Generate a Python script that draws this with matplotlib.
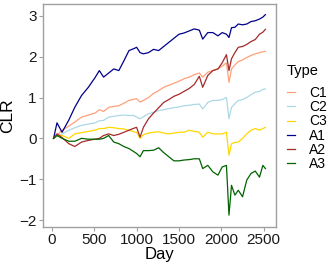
import matplotlib
matplotlib.use("Agg")
import matplotlib.pyplot as plt

plt.rcParams['font.family'] = ['Liberation Sans', 'DejaVu Sans']

days = [20, 60, 120, 200, 270, 350, 430, 510, 560, 610, 670, 730, 790, 850, 910,
        970, 1000, 1040, 1080, 1140, 1200, 1260, 1320, 1380, 1440, 1500, 1560, 1620,
        1680, 1740, 1780, 1840, 1900, 1960, 2010, 2060, 2090, 2120, 2160, 2200, 2250,
        2300, 2350, 2400, 2450, 2490, 2520]

c1 = [0, 0.08, 0.2, 0.3, 0.4, 0.52, 0.57, 0.62, 0.7, 0.66, 0.76, 0.78, 0.8, 0.86, 0.93,
      0.96, 0.97, 0.89, 0.93, 1.0, 1.1, 1.17, 1.25, 1.3, 1.35, 1.4, 1.46, 1.5,
      1.56, 1.6, 1.5, 1.62, 1.66, 1.7, 1.77, 1.85, 1.37, 1.7, 1.8, 1.88, 1.92,
      1.98, 2.03, 2.07, 2.1, 2.12, 2.13]
c2 = [0, 0.05, 0.11, 0.2, 0.26, 0.32, 0.35, 0.38, 0.43, 0.44, 0.52, 0.54, 0.56, 0.57, 0.56,
      0.56, 0.52, 0.48, 0.53, 0.6, 0.64, 0.68, 0.7, 0.73, 0.75, 0.77, 0.8, 0.81,
      0.83, 0.84, 0.72, 0.88, 0.93, 0.93, 0.95, 1.0, 0.48, 0.76, 0.85, 0.93, 0.95,
      1.0, 1.07, 1.13, 1.15, 1.2, 1.21]
c3 = [0, 0.08, 0.07, 0.0, 0.11, 0.14, 0.17, 0.2, 0.24, 0.24, 0.27, 0.26, 0.24, 0.23, 0.2,
      0.16, 0.15, 0.0, 0.09, 0.13, 0.15, 0.16, 0.13, 0.11, 0.13, 0.15, 0.15, 0.2,
      0.17, 0.15, 0.03, 0.15, 0.11, 0.11, 0.11, 0.15, -0.41, -0.13, -0.1, -0.09, 0.0,
      0.11, 0.2, 0.24, 0.2, 0.24, 0.27]
a1 = [0, 0.38, 0.15, 0.45, 0.76, 1.05, 1.25, 1.49, 1.66, 1.5, 1.6, 1.7, 1.66, 1.9, 2.15,
      2.2, 2.23, 2.1, 2.07, 2.1, 2.18, 2.15, 2.25, 2.35, 2.45, 2.55, 2.58, 2.63,
      2.68, 2.65, 2.43, 2.59, 2.59, 2.51, 2.59, 2.55, 2.47, 2.71, 2.72, 2.8, 2.78,
      2.8, 2.86, 2.88, 2.92, 2.97, 3.03]
a2 = [0, 0.11, 0.02, -0.13, -0.2, -0.09, -0.05, -0.02, 0.0, 0.07, 0.11, 0.07, 0.1, 0.15, 0.2,
      0.25, 0.27, 0.03, 0.27, 0.48, 0.62, 0.75, 0.88, 0.95, 1.03, 1.08, 1.15, 1.22,
      1.32, 1.52, 1.25, 1.54, 1.66, 1.7, 1.85, 2.05, 1.66, 1.95, 2.1, 2.23, 2.25,
      2.3, 2.37, 2.42, 2.55, 2.6, 2.67]
a3 = [0, 0.07, 0.0, -0.07, -0.07, 0.0, -0.02, -0.02, -0.02, 0.0, 0.07, -0.09, -0.13, -0.2, -0.25,
      -0.33, -0.37, -0.45, -0.3, -0.3, -0.29, -0.23, -0.35, -0.45, -0.55, -0.55, -0.53, -0.52,
      -0.5, -0.5, -0.74, -0.66, -0.82, -0.9, -0.7, -0.66, -1.88, -1.15, -1.39, -1.27, -1.43,
      -1.02, -0.86, -0.8, -0.95, -0.66, -0.74]

names = ['C1', 'C2', 'C3', 'A1', 'A2', 'A3']
series = [c1, c2, c3, a1, a2, a3]
colors = ['#FFA07A', '#ADD8E6', '#FFD700', '#00008B', '#A52A2A', '#006400']

fig = plt.figure(figsize=(3.32, 2.66), dpi=100)
ax = fig.add_axes([43/332, 39/266, 233/332, 223/266])

for name, vals, col in zip(names, series, colors):
    ax.plot(days, vals, color=col, lw=0.9, label=name)

ax.set_xlim(-105, 2645)
ax.set_ylim(-2.17, 3.29)
ax.set_xticks([0, 500, 1000, 1500, 2000, 2500])
ax.set_yticks([-2, -1, 0, 1, 2, 3])
for s in ax.spines.values():
    s.set_color('#a0a0a0')
    s.set_linewidth(1.0)
ax.tick_params(colors='#a0a0a0', labelcolor='#1a1a1a', length=3, width=0.8, labelsize=11, pad=1.5)
ax.set_xlabel('Day', fontsize=12, labelpad=0)
ax.set_ylabel('CLR', fontsize=12.5, labelpad=3)

# legend on the right, title left aligned like ggplot
leg = ax.legend(loc='upper left', bbox_to_anchor=(287/332, 1 - 63.5/266), bbox_transform=fig.transFigure,
                frameon=False, title='Type', fontsize=10, title_fontsize=10.5,
                handlelength=0.6, handletextpad=1.0, labelspacing=0.02, borderpad=0,
                borderaxespad=0)
leg._legend_box.align = 'left'
leg._legend_box.sep = 6

fig.savefig('out.png', dpi=100)
